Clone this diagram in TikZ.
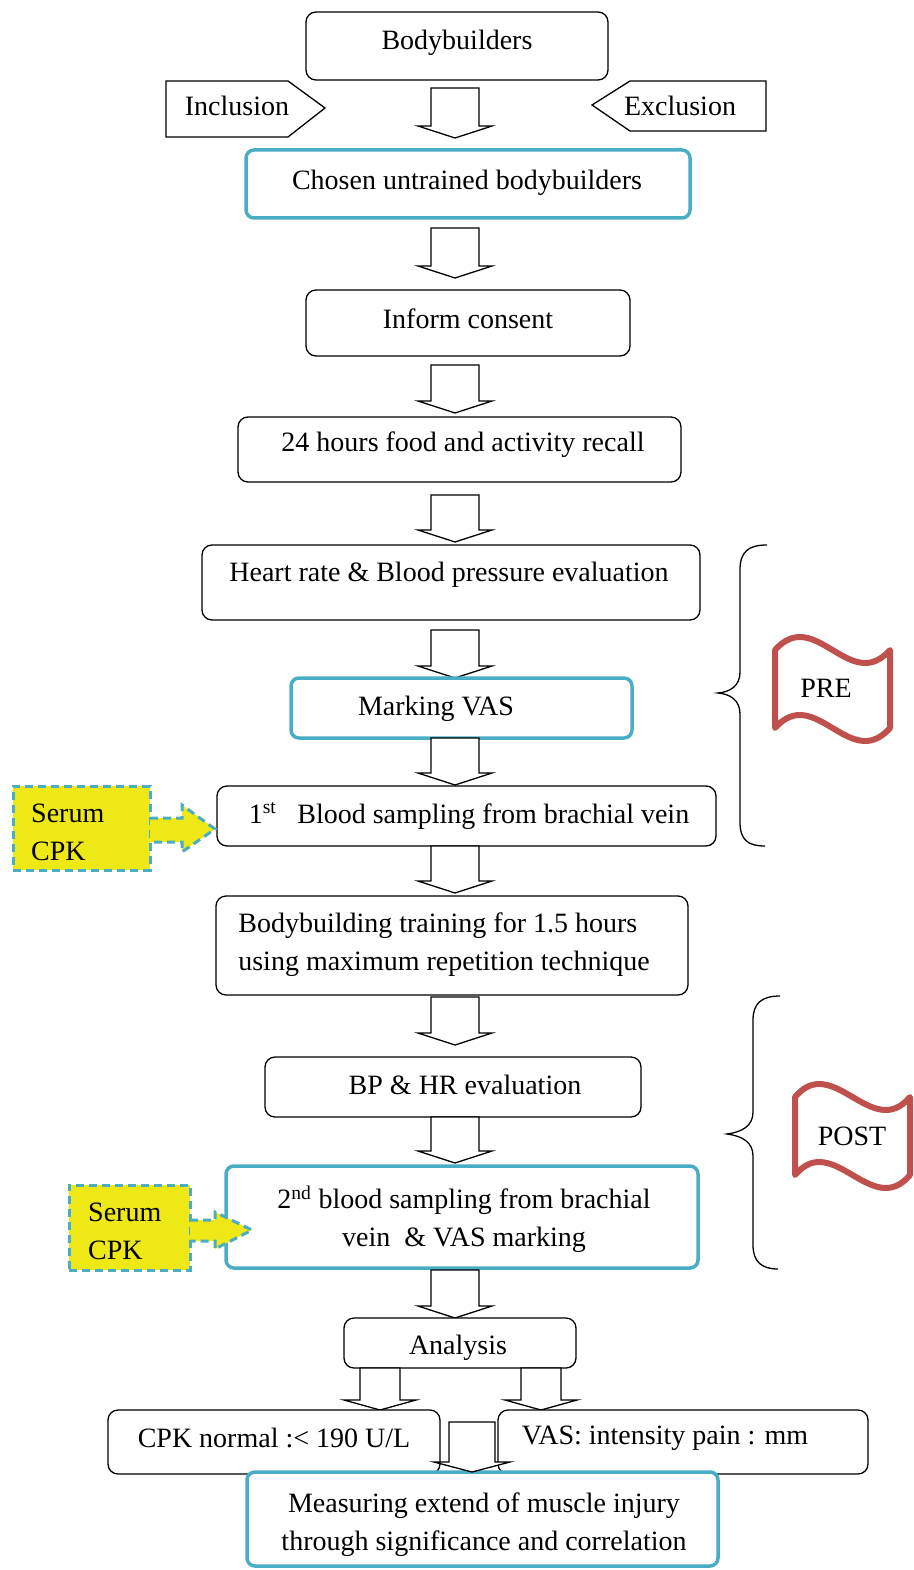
\documentclass[tikz,border=0pt]{standalone}
\usepackage{fontspec}
\setmainfont{Liberation Serif}
\definecolor{myblue}{RGB}{75,172,198}
\definecolor{myyellow}{RGB}{238,232,22}
\definecolor{myred}{RGB}{192,80,77}
\tikzset{
  bx/.style={draw=black, line width=1.3pt, rounded corners=10pt, fill=white, inner sep=0pt},
  bbx/.style={draw=myblue, line width=3.5pt, rounded corners=8pt, fill=white, inner sep=0pt},
  txt/.style={font=\fontsize{28}{38}\selectfont, inner sep=0pt, yshift=-3pt},
  arr/.style={draw=black, line width=1.3pt, fill=white, line join=miter},
  ser/.style={fill=myyellow, draw=myblue, line width=3pt, dash pattern=on 8pt off 5pt},
  brc/.style={draw=black, line width=1.3pt},
  flag/.style={draw=myred, line width=6pt, fill=white, line join=round},
  pent/.style={draw=black, line width=1.3pt, fill=white},
}
% name, style, x1, y1, x2, y2
\newcommand{\boxat}[6]{\node[#2, minimum width={#5-#3}, minimum height={#6-#4}] (#1) at ({(#3+#5)/2},{(#4+#6)/2}) {};}
% x, top, bottom, stem half, head half, head height
\newcommand{\barr}[6]{\draw[arr] ({#1-#4},#2) -- ({#1+#4},#2) -- ({#1+#4},{#3-#6}) -- ({#1+#5},{#3-#6}) -- (#1,#3) -- ({#1-#5},{#3-#6}) -- ({#1-#4},{#3-#6}) -- cycle;}
\begin{document}
\begin{tikzpicture}[x=1pt,y=-1pt]
\useasboundingbox (0,0) rectangle (913,1570);

% Top
\boxat{bb}{bx}{306}{12}{608}{80}
\node[txt] (tbb) at (457,40) {Bodybuilders};
\draw[pent] (166,81) -- (288,81) -- (325,108) -- (288,137) -- (166,137) -- cycle;
\node[txt] (tinc) at (237,103) {Inclusion};
\draw[pent] (766,81) -- (630,81) -- (592,105) -- (630,131) -- (766,131) -- cycle;
\node[txt] (texc) at (680,103) {Exclusion};
\barr{455}{88}{138}{24}{37}{12}

\boxat{ch}{bbx}{246}{150}{690}{218}
\node[txt] (tch) at (467,180) {Chosen untrained bodybuilders};
\barr{455}{228}{278}{24}{37}{12}

\boxat{ic}{bx}{306}{290}{630}{356}
\node[txt] (tic) at (468,316) {Inform consent};
\barr{455}{365}{413}{24}{37}{12}

\boxat{fr}{bx}{238}{417}{681}{482}
\node[txt] (tfr) at (463,442) {24 hours food and activity recall};
\barr{455}{495}{542}{24}{37}{12}

\boxat{hr}{bx}{202}{545}{700}{620}
\node[txt] (thr) at (449,572) {Heart rate \& Blood pressure evaluation};
\barr{455}{630}{678}{24}{37}{12}

\boxat{mv}{bbx}{291}{678}{632}{738}
\node[txt] (tmv) at (436,706) {Marking VAS};
\barr{455}{738}{785}{24}{37}{12}

\boxat{b1}{bx}{217}{786}{716}{846}
\node[txt] (tb1) at (469,813) {1\textsuperscript{st}\ \ \ Blood sampling from brachial vein};
\barr{455}{846}{893}{24}{37}{12}

\boxat{bt}{bx}{216}{896}{688}{995}
\node[txt, align=left] (tbt) at (444,942) {Bodybuilding training for 1.5 hours\\using maximum repetition technique};
\barr{455}{997}{1045}{24}{37}{12}

\boxat{bp}{bx}{265}{1057}{641}{1117}
\node[txt] (tbp) at (465,1082) {BP \& HR evaluation};
\barr{455}{1117}{1163}{24}{37}{12}

\boxat{b2}{bbx}{226}{1166}{698}{1268}
\node[txt, align=center] (tb2) at (464,1216) {2\textsuperscript{nd} blood sampling from brachial\\vein \ \& VAS marking};
\barr{455}{1270}{1318}{24}{37}{12}

\boxat{an}{bx}{344}{1318}{576}{1368}
\node[txt] (tan) at (458,1345) {Analysis};
\barr{380}{1368}{1410}{20}{36}{10}
\barr{541}{1368}{1410}{20}{36}{10}

\boxat{cpk}{bx}{108}{1410}{440}{1474}
\node[txt] (tcpk) at (274,1435) {CPK normal :< 190 U/L};
\boxat{vas}{bx}{498}{1410}{868}{1474}
\node[txt] (tvas) at (665,1435) {VAS: intensity pain : mm};

\boxat{me}{bbx}{247}{1472}{718}{1566}
\node[txt, align=center] (tme) at (484,1522) {Measuring extend of muscle injury\\through significance and correlation};
\barr{472}{1422}{1472}{23}{38}{10}

% Serum CPK 1
\boxat{s1}{ser}{13}{786}{150}{870}
\draw[ser] (150,818) -- (182,818) -- (182,805) -- (215,829) -- (182,852) -- (182,842) -- (150,842);
\node[txt, align=left, anchor=west] (ts1) at (31,829) {Serum\\CPK};

% Serum CPK 2
\boxat{s2}{ser}{69}{1185}{190}{1270}
\draw[ser] (190,1220) -- (215,1220) -- (215,1212) -- (252,1230) -- (215,1249) -- (215,1241) -- (190,1241);
\node[txt, align=left, anchor=west] (ts2) at (88,1228) {Serum\\CPK};

% Braces
\draw[brc] (767,545) .. controls (748,545) and (740,552) .. (740,570) -- (740,672) .. controls (740,686) and (730,692) .. (718,693) .. controls (730,694) and (740,700) .. (740,714) -- (740,822) .. controls (740,840) and (748,846) .. (765,846);
\draw[brc] (780,996) .. controls (762,996) and (753,1003) .. (753,1020) -- (753,1112) .. controls (753,1126) and (742,1132) .. (727,1134) .. controls (742,1136) and (753,1142) .. (753,1156) -- (753,1245) .. controls (753,1262) and (762,1269) .. (778,1269);

% Flags
\draw[flag] (775,650) .. controls (815,605) and (850,695) .. (890,650) -- (890,728) .. controls (850,773) and (815,683) .. (775,728) -- cycle;
\node[txt] (tpre) at (826,685) {PRE};
\begin{scope}
\clip (0,0) rectangle (913,1570);
\draw[flag] (795,1097) .. controls (833,1052) and (872,1142) .. (910,1097) -- (910,1175) .. controls (872,1220) and (833,1130) .. (795,1175) -- cycle;
\end{scope}
\node[txt] (tpost) at (852,1133) {POST};
\end{tikzpicture}
\end{document}
